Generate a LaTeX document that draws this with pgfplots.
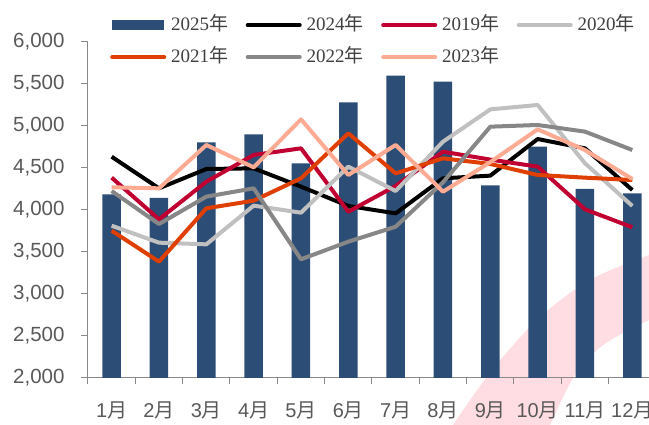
\documentclass[border=0pt]{standalone}
\usepackage{pgfplots}
\pgfplotsset{compat=1.18}
\usepackage{fontspec}
\setmainfont{Liberation Serif}
\newfontfamily\arial{Liberation Sans}
\newfontfamily\cjk{Noto Sans CJK SC}
\definecolor{barcol}{HTML}{2C4D75}
\definecolor{c2024}{HTML}{000000}
\definecolor{c2019}{HTML}{C00030}
\definecolor{c2020}{HTML}{C0C0C0}
\definecolor{c2021}{HTML}{DF3F00}
\definecolor{c2022}{HTML}{878787}
\definecolor{c2023}{HTML}{FFAB94}
\definecolor{axcol}{HTML}{898989}
\definecolor{lblcol}{HTML}{595959}
\definecolor{legcol}{HTML}{404040}
\definecolor{wm}{HTML}{FFDDE2}
\newcommand\mo[1]{#1{\cjk 月}}
\newcommand\yr[1]{#1{\cjk 年}}
\begin{document}
\begin{tikzpicture}
\path[use as bounding box] (-88pt,-47pt) rectangle (561pt,378pt);
\fill[wm] plot[smooth] coordinates {(365pt,-47pt) (404pt,8pt) (452pt,61pt) (502pt,98pt) (561pt,123pt) (600pt,135pt)}
  -- (600pt,50pt) -- plot[smooth] coordinates {(561pt,58pt) (535pt,45pt) (509pt,28pt) (484pt,-2pt) (462pt,-47pt)} -- cycle;
\begin{axis}[
  scale only axis,
  width=568pt, height=336pt,
  xmin=-0.5, xmax=11.5,
  ymin=2000, ymax=6000,
  axis x line*=bottom, axis y line*=left,
  axis line style={draw=axcol, line width=1pt},
  ytick={2000,2500,...,6000},
  scaled y ticks=false,
  /pgf/number format/.cd, 1000 sep={,}, assume math mode=true,
  /pgfplots/.cd,
  yticklabel style={font=\arial\fontsize{20.5pt}{20.5pt}\selectfont, text=lblcol, xshift=-13pt},
  xtick={0,...,11},
  xticklabels={\mo{1},\mo{2},\mo{3},\mo{4},\mo{5},\mo{6},\mo{7},\mo{8},\mo{9},\mo{10},\mo{11},\mo{12}},
  xticklabel style={font=\arial\fontsize{20pt}{20pt}\selectfont, text=lblcol, yshift=-13pt},
  minor xtick={-0.5,0.5,...,11.5},
  tick align=outside,
  major tick length=7pt, minor tick length=6pt,
  xtick style={draw=none},
  minor x tick style={draw=axcol, line width=1pt},
  ytick style={draw=axcol, line width=1pt},
  clip=false,
  legend columns=4,
  legend cell align=left,
  legend style={draw=none, fill=none, at={(0.0335,1.082)}, anchor=north west,
    font=\fontsize{19pt}{19pt}\selectfont, text=legcol,
    nodes={inner sep=0pt, text height=14pt, text depth=3pt},
    /tikz/every odd column/.append style={column sep=5pt},
    /tikz/every even column/.append style={column sep=17.5pt},
    row sep=15pt},
  legend image code/.code={\draw[#1, line cap=round] (0pt,0pt) -- (52pt,0pt);},
  every axis plot/.append style={line width=4pt, line join=round},
]
\addplot[ybar, bar width=18.5pt, fill=barcol, draw=none,
  legend image code/.code={\fill[barcol] (0pt,-5pt) rectangle (52pt,5pt);}]
  coordinates {(0,4187) (1,4145) (2,4806) (3,4900) (4,4555) (5,5282) (6,5599) (7,5528) (8,4293) (9,4754) (10,4250) (11,4198)};
\addlegendentry{\yr{2025}}
\addplot[c2024, mark=none] coordinates {(0,4634) (1,4258) (2,4488) (3,4496) (4,4278) (5,4048) (6,3960) (7,4377) (8,4409) (9,4845) (10,4734) (11,4238)};
\addlegendentry{\yr{2024}}
\addplot[c2019, mark=none] coordinates {(0,4385) (1,3889) (2,4337) (3,4655) (4,4734) (5,3980) (6,4286) (7,4694) (8,4600) (9,4516) (10,4008) (11,3794)};
\addlegendentry{\yr{2019}}
\addplot[c2020, mark=none] coordinates {(0,3813) (1,3611) (2,3591) (3,4052) (4,3968) (5,4516) (6,4226) (7,4813) (8,5198) (9,5250) (10,4556) (11,4048)};
\addlegendentry{\yr{2020}}
\addplot[c2021, mark=none] coordinates {(0,3754) (1,3385) (2,4020) (3,4111) (4,4377) (5,4913) (6,4436) (7,4615) (8,4548) (9,4417) (10,4385) (11,4357)};
\addlegendentry{\yr{2021}}
\addplot[c2022, mark=none] coordinates {(0,4226) (1,3833) (2,4159) (3,4258) (4,3413) (5,3623) (6,3801) (7,4330) (8,4992) (9,5012) (10,4933) (11,4714)};
\addlegendentry{\yr{2022}}
\addplot[c2023, mark=none] coordinates {(0,4270) (1,4258) (2,4774) (3,4508) (4,5079) (5,4417) (6,4774) (7,4218) (8,4570) (9,4960) (10,4714) (11,4369)};
\addlegendentry{\yr{2023}}
\end{axis}
\end{tikzpicture}
\end{document}
